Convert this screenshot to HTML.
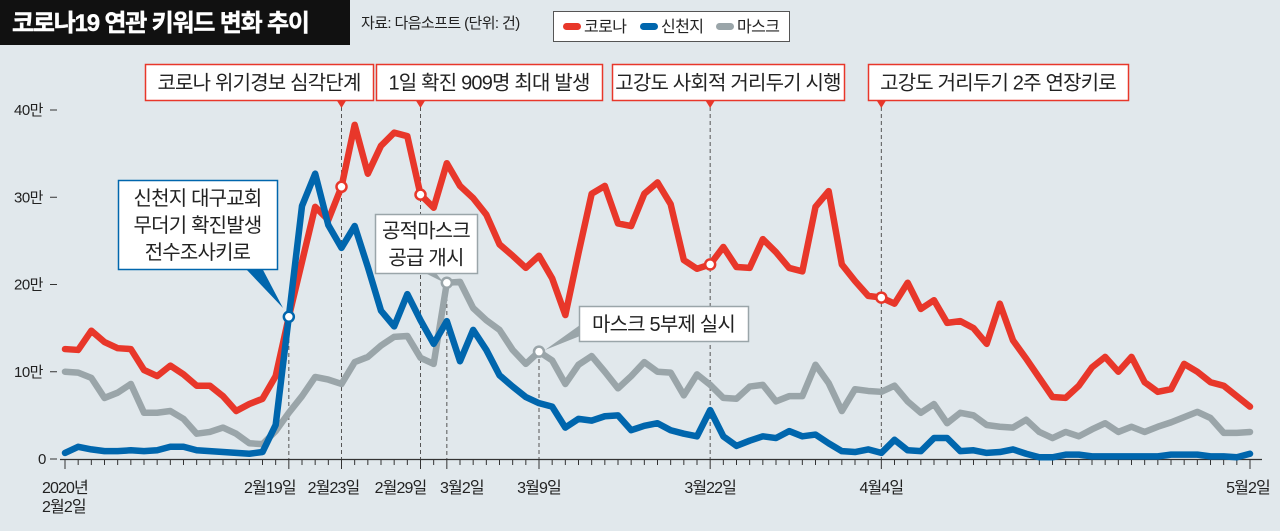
<!DOCTYPE html>
<html><head><meta charset="utf-8">
<style>
body{margin:0;background:#e1e8ec;font-family:"Liberation Sans","Noto Sans CJK KR",sans-serif;}
#wrap{position:relative;width:1280px;height:531px;overflow:hidden;background:#e1e8ec;}
svg text{font-family:"Liberation Sans","Noto Sans CJK KR",sans-serif;}
</style></head><body>
<div id="wrap">
<svg id="chart" width="1280" height="531"></svg>
</div>
<script>
const days = 91;
const dateLabels = ["2020년|2월2일","2월19일","2월23일","2월29일","3월2일","3월9일","3월22일","4월4일","5월2일"];
const dateIdx = [0,17,21,27,29,36,49,62,90];
const yTicks = [0,10,20,30,40];
const yTickLabels = ["0","10만","20만","30만","40만"];
const corona = [12.6,12.5,14.7,13.4,12.7,12.6,10.2,9.5,10.7,9.7,8.4,8.4,7.2,5.5,6.3,6.9,9.5,16.3,22.6,28.9,27.4,31.2,38.3,32.7,35.9,37.4,37.0,30.3,28.8,33.9,31.3,29.9,28.0,24.6,23.3,21.9,23.3,20.7,16.5,23.6,30.4,31.3,27.0,26.7,30.4,31.7,29.2,22.8,21.8,22.3,24.3,22.0,21.9,25.2,23.7,21.9,21.5,28.9,30.7,22.3,20.4,18.7,18.5,17.8,20.2,17.2,18.2,15.6,15.8,15.0,13.2,17.8,13.6,11.5,9.3,7.1,7.0,8.4,10.5,11.7,10.0,11.7,8.8,7.7,8.0,10.9,10.0,8.8,8.4,7.2,6.0];
const shincheonji = [0.7,1.4,1.1,0.9,0.9,1.0,0.9,1.0,1.4,1.4,1.0,0.9,0.8,0.7,0.6,0.8,3.9,16.3,29.0,32.7,26.8,24.2,26.7,22.0,17.0,15.2,18.9,15.9,13.2,15.8,11.2,14.8,12.5,9.6,8.3,7.1,6.4,6.0,3.6,4.6,4.4,4.9,5.0,3.3,3.8,4.1,3.3,2.9,2.6,5.6,2.6,1.5,2.1,2.6,2.4,3.2,2.6,2.8,1.8,0.9,0.8,1.1,0.7,2.2,1.0,0.9,2.4,2.4,0.9,1.0,0.7,0.8,1.1,0.6,0.2,0.2,0.5,0.5,0.3,0.3,0.3,0.3,0.3,0.3,0.5,0.5,0.5,0.3,0.3,0.2,0.6];
const mask = [10.0,9.9,9.3,7.0,7.6,8.6,5.3,5.3,5.5,4.6,2.9,3.1,3.6,2.9,1.8,1.7,3.2,5.3,7.2,9.4,9.1,8.6,11.1,11.7,13.0,14.0,14.1,11.6,10.9,20.2,20.3,17.3,15.9,14.8,12.5,10.9,12.3,11.3,8.6,10.8,11.8,10.0,8.1,9.5,11.1,10.0,9.9,7.3,9.7,8.5,7.0,6.9,8.3,8.5,6.6,7.2,7.2,10.8,8.7,5.5,8.0,7.8,7.7,8.4,6.6,5.3,6.3,4.1,5.3,5.0,3.9,3.7,3.6,4.5,3.1,2.4,3.1,2.6,3.4,4.1,3.1,3.7,3.1,3.7,4.2,4.8,5.4,4.7,3.0,3.0,3.1];
const labelShift = [0,-19,-8,-20,15,0,0,0,-2];

const NS='http://www.w3.org/2000/svg';
const svg=document.getElementById('chart');
const X=d=>65+d*(1250-65)/90;
const Y=v=>459-v*(459-110)/40;
function el(tag,attrs,parent){const e=document.createElementNS(NS,tag);for(const k in attrs)e.setAttribute(k,attrs[k]);(parent||svg).appendChild(e);return e;}

// title
let g=el('g',{});


el('rect',{x:0,y:0,width:350,height:45,fill:'#111'},g);
let t=el('text',{x:12,y:31,fill:'#fff','font-size':24,'font-weight':'bold','letter-spacing':-1.2,'stroke':'#fff','stroke-width':0.4},g);t.textContent='코로나19 연관 키워드 변화 추이';
t=el('text',{x:361,y:28,fill:'#222','font-size':15,'letter-spacing':-0.6});t.textContent='자료: 다음소프트 (단위: 건)';



// legend
g=el('g',{});


el('rect',{x:553.5,y:11.5,width:236,height:30,fill:'#fff',stroke:'#555'},g);
[['코로나','#e8372a',563],['신천지','#0066ad',640],['마스크','#9aa5a9',716]].forEach(([n,c,x])=>{
  const le=el('g',{},g);
  
  
  el('rect',{x:x,y:23,width:18,height:7,rx:3.5,fill:c},le);
  const tt=el('text',{x:x+21,y:32,'font-size':16,fill:'#222','letter-spacing':-0.6},le);tt.textContent=n;
});

// y axis
yTicks.forEach((v,i)=>{
  const tt=el('text',{x:v===0?38:14,y:Y(v)+5,'font-size':15,fill:'#222','letter-spacing':-0.5});
  tt.textContent=yTickLabels[i];
  
  
  el('line',{x1:50,x2:57,y1:Y(v),y2:Y(v),stroke:'#333','stroke-width':1});
});
// x axis
const ax=el('line',{x1:60,x2:1262,y1:459.5,y2:459.5,stroke:'#333','stroke-width':1.2});


for(let d=0;d<days;d++){el('line',{x1:X(d),x2:X(d),y1:459,y2:dateIdx.includes(d)?469:465,stroke:'#333','stroke-width':1});}
dateIdx.forEach((d,i)=>{
  const parts=dateLabels[i].split('|');
  parts.forEach((p,j)=>{
    const tt=el('text',{x:d===0?42:X(d)+labelShift[i],y:493+j*19,'font-size':16,fill:'#222','text-anchor':d===0?'start':'middle','letter-spacing':-0.9});
    tt.textContent=p;
    
    
  });
});

// dashed guide lines
[[21,100],[27,100],[49,100],[62,100],[17,318],[29,283],[36,352]].forEach(([d,y0])=>{
  el('line',{x1:X(d),x2:X(d),y1:y0,y2:459,stroke:'#555','stroke-width':1,'stroke-dasharray':'4,3'});
});

// series
function drawLine(arr,color,name){
  const p=el('polyline',{points:arr.map((v,i)=>X(i)+','+Y(v)).join(' '),fill:'none',stroke:color,'stroke-width':6.5,'stroke-linejoin':'round','stroke-linecap':'round'});
  
  
}
drawLine(mask,'#9aa5a9','mask-line');
drawLine(corona,'#e8372a','corona-line');
drawLine(shincheonji,'#0066ad','shincheonji-line');

// markers
[[corona,21,'#e8372a'],[corona,27,'#e8372a'],[corona,49,'#e8372a'],[corona,62,'#e8372a'],[shincheonji,17,'#0066ad'],[mask,29,'#9aa5a9'],[mask,36,'#9aa5a9']].forEach(([a,d,c])=>{
  const m=el('circle',{cx:X(d),cy:Y(a[d]),r:5,fill:'#fff',stroke:c,'stroke-width':2.5});
  
  
});

// annotation boxes
function box(x,y,w,h,lines,border,name,fs){
  const gg=el('g',{});
  
  
  el('rect',{x:x+0.5,y:y+0.5,width:w,height:h,fill:'#fff',stroke:border,'stroke-width':1.5},gg);
  lines.forEach((l,i)=>{
    const tt=el('text',{x:x+w/2,y:y+(h-lines.length*27)/2+21+i*27,'font-size':fs||19,fill:'#222','text-anchor':'middle','letter-spacing':-0.8},gg);
    tt.textContent=l;
  });
  return gg;
}
const red='#e8372a';
[[145,228,'코로나 위기경보 심각단계',21],[376,226,'1일 확진 909명 최대 발생',27],[612,232,'고강도 사회적 거리두기 시행',49],[868,260,'고강도 거리두기 2주 연장키로',62]].forEach(([x,w,txt,d])=>{
  box(x,64,w,36,[txt],red,'event-annotation',20);
  el('polygon',{points:`${X(d)-5},100 ${X(d)+5},100 ${X(d)},108`,fill:red});
});
el('polygon',{points:'245,268 262,268 283,308',fill:'#0066ad'});
box(118,180,159,89,['신천지 대구교회','무더기 확진발생','전수조사키로'],'#0066ad','shincheonji-annotation',20);
el('polygon',{points:'415,268 432,268 443,282',fill:'#9aa5a9'});
box(375,214,102,59,['공적마스크','공급 개시'],'#9aa5a9','mask-supply-annotation',20);
el('polygon',{points:'580,325 580,336 545,350',fill:'#9aa5a9'});
box(579,306,169,35,['마스크 5부제 실시'],'#9aa5a9','mask-rotation-annotation',20);
</script>
</body></html>
